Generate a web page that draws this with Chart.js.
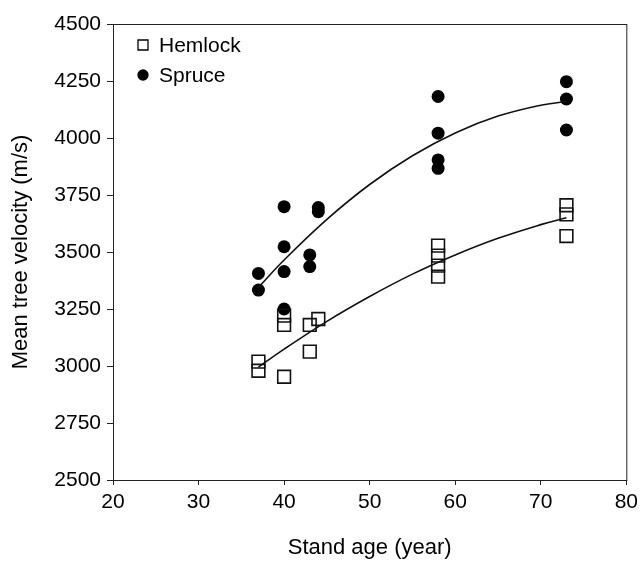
<!DOCTYPE html>
<html>
<head>
<meta charset="utf-8">
<script src="https://cdn.jsdelivr.net/npm/chart.js@4/dist/chart.umd.min.js"></script>
<style>
  html, body { margin: 0; padding: 0; background: #fff; }
  #wrap { width: 643px; height: 571px; }
</style>
</head>
<body>
<div id="wrap"><canvas id="velocity-chart" width="643" height="571"></canvas></div>
<script>
// Mean tree velocity vs. stand age, hemlock and spruce stands
const hemlockAge = [37, 37, 40, 40, 40, 43, 43, 44, 58, 58, 58, 58, 73, 73, 73];
const hemlockVel = [3019, 2979, 3221, 3180, 2953, 3180, 3063, 3206, 3528, 3484, 3440, 3392, 3705, 3665, 3570];

const spruceAge = [37, 37, 40, 40, 40, 40, 43, 43, 44, 44, 58, 58, 58, 58, 73, 73, 73];
const spruceVel = [3406, 3333, 3699, 3523, 3414, 3250, 3487, 3436, 3695, 3677, 4182, 4021, 3904, 3867, 4247, 4171, 4035];

// trend curves through each species
const trendAge = [37, 40, 45, 50, 55, 60, 65, 70, 73];
const hemlockTrend = [2995, 3074, 3196, 3305, 3403, 3487, 3560, 3620, 3650];
const spruceTrend = [3345, 3465, 3643, 3796, 3922, 4022, 4096, 4144, 4160];

const xTicks = [20, 30, 40, 50, 60, 70, 80];
const yTicks = [2500, 2750, 3000, 3250, 3500, 3750, 4000, 4250, 4500];

const legendItems = [
    { label: 'Hemlock', style: 'rect', fill: '#fff' },
    { label: 'Spruce', style: 'circle', fill: '#000' },
];

const FONT = 'Arial, "Liberation Sans", sans-serif';
const pts = (xs, ys) => xs.map((x, i) => ({ x, y: ys[i] }));

// box around the plot + legend in the upper-left corner
const framePlugin = {
    id: 'frame',
    afterDraw(chart) {
        const { ctx, chartArea: a } = chart;
        ctx.save();
        ctx.strokeStyle = '#222';
        ctx.lineWidth = 1;
        ctx.strokeRect(a.left + 0.5, a.top + 0.5, a.right - a.left, a.bottom - a.top);

        ctx.font = '21px ' + FONT;
        ctx.textBaseline = 'middle';
        legendItems.forEach((it, i) => {
            const x = a.left + 30, y = a.top + 21 + i * 30;
            ctx.fillStyle = it.fill;
            ctx.strokeStyle = '#000';
            ctx.lineWidth = 1.3;
            ctx.beginPath();
            if (it.style === 'rect') {
                ctx.rect(x - 5, y - 5, 10, 10);
            } else {
                ctx.arc(x, y, 5, 0, Math.PI * 2);
            }
            ctx.fill();
            ctx.stroke();
            ctx.fillStyle = '#000';
            ctx.fillText(it.label, x + 16, y + 1);
        });
        ctx.restore();
    }
};

new Chart(document.getElementById('velocity-chart'), {
    type: 'scatter',
    data: {
        datasets: [
            {
                label: 'Hemlock trend', data: pts(trendAge, hemlockTrend), showLine: true,
                borderColor: '#111', borderWidth: 1.6, pointRadius: 0, tension: 0.4, fill: false
            },
            {
                label: 'Spruce trend', data: pts(trendAge, spruceTrend), showLine: true,
                borderColor: '#111', borderWidth: 1.6, pointRadius: 0, tension: 0.4, fill: false
            },
            {
                label: 'Hemlock', data: pts(hemlockAge, hemlockVel),
                pointStyle: 'rect', pointRadius: 9, borderWidth: 1.6,
                borderColor: '#111', backgroundColor: 'rgba(255,255,255,0)'
            },
            {
                label: 'Spruce', data: pts(spruceAge, spruceVel),
                pointStyle: 'circle', pointRadius: 6.5, borderWidth: 0,
                borderColor: '#000', backgroundColor: '#000'
            },
        ]
    },
    options: {
        responsive: false,
        animation: false,
        layout: { padding: { left: 0, top: 24, right: 13, bottom: 0 } },
        plugins: { legend: { display: false }, tooltip: { enabled: false } },
        scales: {
            x: {
                type: 'linear', min: 20, max: 80,
                afterBuildTicks: s => { s.ticks = xTicks.map(v => ({ value: v })); },
                afterFit: s => { s.height = 91; },
                grid: { display: true, drawOnChartArea: false, drawTicks: true, tickLength: 5, color: '#222' },
                border: { display: true, color: '#222' },
                ticks: { color: '#000', font: { family: FONT, size: 21 }, padding: 5, maxRotation: 0, callback: v => String(v) },
                title: { display: true, text: 'Stand age (year)', color: '#000', font: { family: FONT, size: 22 }, padding: { top: 0, bottom: 10 } }
            },
            y: {
                type: 'linear', min: 2500, max: 4500,
                afterBuildTicks: s => { s.ticks = yTicks.map(v => ({ value: v })); },
                afterFit: s => { s.width = 113; },
                grid: { display: true, drawOnChartArea: false, drawTicks: true, tickLength: 6, color: '#222' },
                border: { display: true, color: '#222' },
                ticks: { color: '#000', font: { family: FONT, size: 21 }, padding: 6, callback: v => String(v) },
                title: { display: true, text: 'Mean tree velocity (m/s)', color: '#000', font: { family: FONT, size: 22 }, padding: { top: 8, bottom: 0 } }
            }
        }
    },
    plugins: [framePlugin]
});
</script>
</body>
</html>
